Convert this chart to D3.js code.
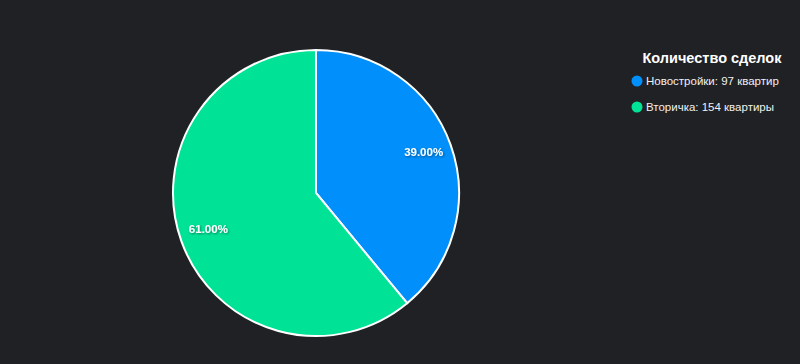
<!DOCTYPE html>
<html>
<head>
<meta charset="utf-8">
<script src="https://cdn.jsdelivr.net/npm/d3@7"></script>
<style>
  html, body { margin: 0; padding: 0; background: #202124; }
  svg { display: block; font-family: 'Liberation Sans', Arial, Helvetica, sans-serif; }
</style>
</head>
<body>
<div id="chart"></div>
<script>
const labels = ['Новостройки', 'Вторичка']
const values = [97, 154]
const units = ['квартир', 'квартиры']
const percents = [39.0, 61.0]
const colors = ['#008FFB', '#00E396']
const legendTitle = 'Количество сделок'

const width = 800, height = 364
const cx = 316, cy = 193, R = 143

const svg = d3.select('#chart').append('svg')
  .attr('width', width).attr('height', height)

const defs = svg.append('defs')
const f = defs.append('filter').attr('id', 'shadow')
  .attr('x', '-20%').attr('y', '-40%').attr('width', '140%').attr('height', '180%')
f.append('feDropShadow').attr('dx', 1).attr('dy', 1).attr('stdDeviation', 1)
  .attr('flood-color', '#000').attr('flood-opacity', 0.45)

const data = percents.map((p, i) => ({ p, i }))
const pie = d3.pie().sort(null).value(d => d.p)
const arc = d3.arc().innerRadius(0).outerRadius(R)
const labelArc = d3.arc().innerRadius(R * 0.8).outerRadius(R * 0.8)

const g = svg.append('g').attr('transform', `translate(${cx},${cy})`)
const arcs = pie(data)

g.selectAll('path').data(arcs).join('path')
  .attr('d', arc)
  .attr('fill', d => colors[d.data.i])
  .attr('stroke', '#fff').attr('stroke-width', 2)

g.selectAll('text').data(arcs).join('text')
  .attr('transform', d => `translate(${labelArc.centroid(d)})`)
  .attr('text-anchor', 'middle').attr('dy', '0.15em')
  .attr('fill', '#fff').attr('font-size', 11.5).attr('font-weight', 'bold')
  .attr('filter', 'url(#shadow)')
  .text(d => d3.format('.2f')(d.data.p) + '%')

// ── legend ─────────────────────────────────────────────
const lg = svg.append('g')
lg.append('text')
  .attr('x', 712).attr('y', 63).attr('text-anchor', 'middle')
  .attr('fill', '#fff').attr('font-size', 14.5).attr('font-weight', 'bold')
  .text(legendTitle)

const items = lg.selectAll('.item').data(labels).join('g')
  .attr('class', 'item')
  .attr('transform', (_, i) => `translate(637,${81 + i * 26})`)
items.append('circle').attr('r', 5.5).attr('fill', (_, i) => colors[i])
items.append('text')
  .attr('x', 9).attr('dy', '0.35em')
  .attr('fill', '#f0f0f0').attr('font-size', 11.5)
  .text((d, i) => `${d}: ${values[i]} ${units[i]}`)
</script>
</body>
</html>
